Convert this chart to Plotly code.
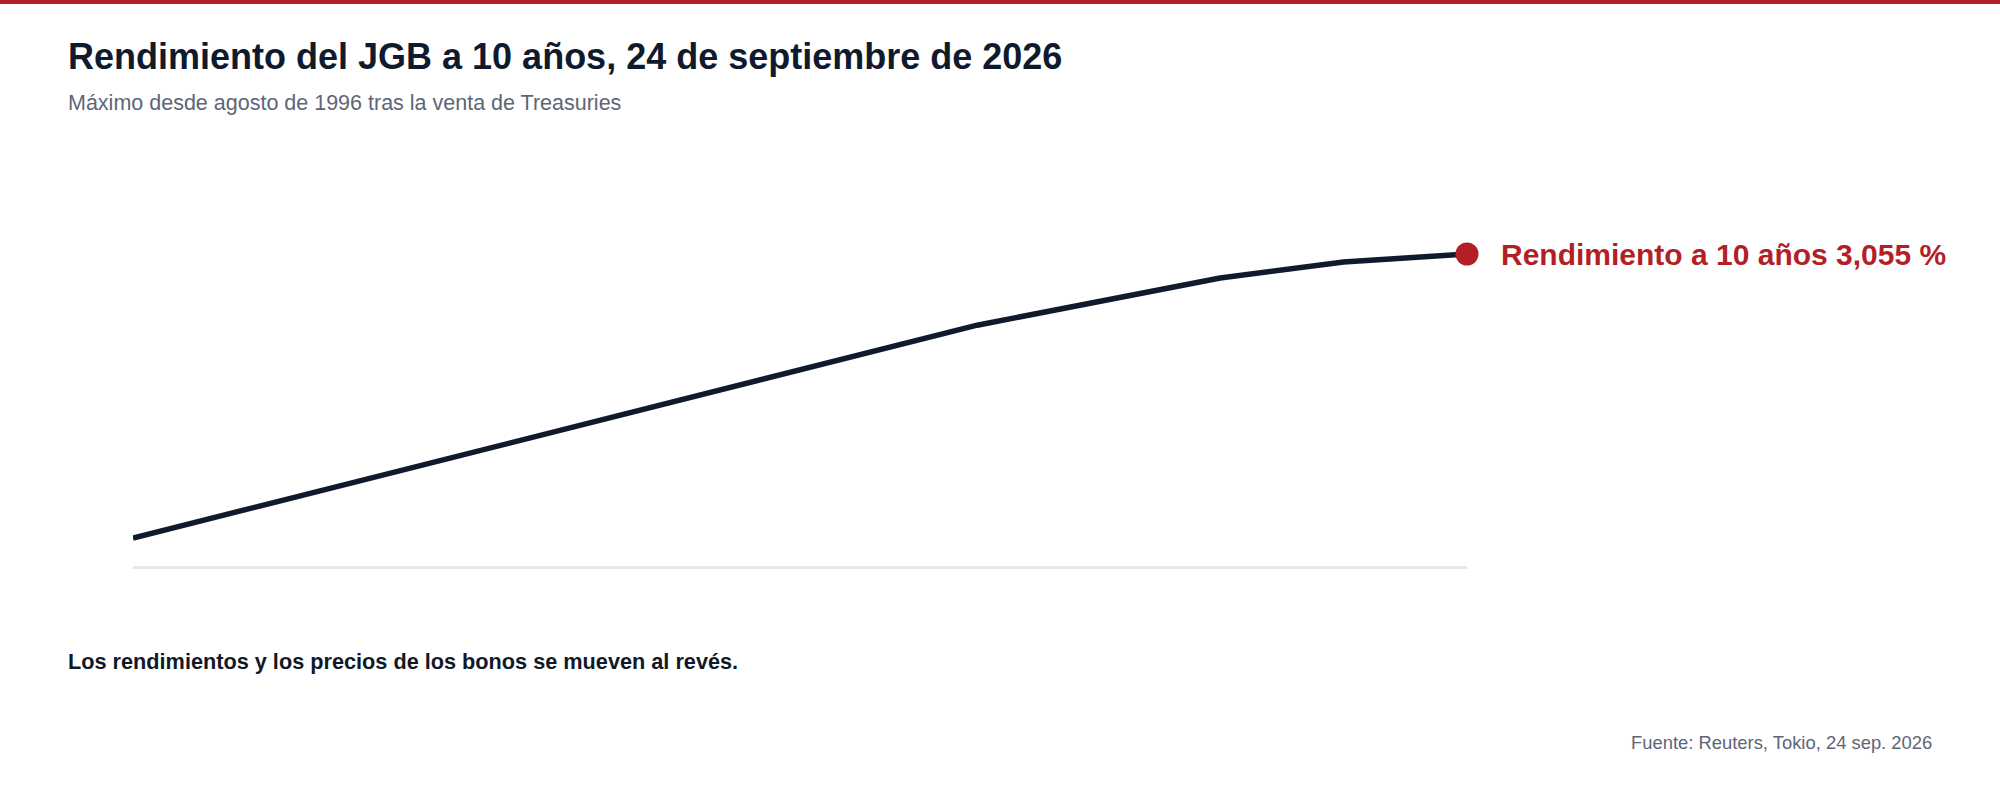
import plotly.graph_objects as go

# data (hidden y axis, scale estimated from the line shape)
dates = ["2025-10-24", "2026-05-24", "2026-07-24", "2026-08-24", "2026-09-24"]
yields = [2.345, 2.877, 2.995, 3.035, 3.055]
last_label = "Rendimiento a 10 años 3,055 %"

title = "Rendimiento del JGB a 10 años, 24 de septiembre de 2026"
subtitle = "Máximo desde agosto de 1996 tras la venta de Treasuries"
note = "Los rendimientos y los precios de los bonos se mueven al revés."
source = "Fuente: Reuters, Tokio, 24 sep. 2026"

W, H = 2000, 800
L, R, T, B = 133, 533, 140, 234
PW, PH = W - L - R, H - T - B

NAVY = "#0f1b2d"
RED = "#b31f27"
GREY = "#5d6678"
FONT = "Liberation Sans, Arial, Helvetica, sans-serif"


def px_x(p):
    return (p - L) / PW


def px_y(p):
    return (H - B - p) / PH


fig = go.Figure()
fig.add_trace(go.Scatter(x=dates, y=yields, mode="lines",
                         line=dict(color=NAVY, width=5.5),
                         hoverinfo="skip"))
fig.add_trace(go.Scatter(x=dates[-1:], y=yields[-1:], mode="markers",
                         marker=dict(color=RED, size=23),
                         cliponaxis=False, hoverinfo="skip"))

fig.add_annotation(x=dates[-1], y=yields[-1], xref="x", yref="y",
                   text=f"<b>{last_label}</b>", showarrow=False,
                   xanchor="left", yanchor="middle", xshift=32,
                   font=dict(family=FONT, size=30, color=RED))

texts = [
    (f"<b>{title}</b>", 66, 57, 36, NAVY, "left"),
    (subtitle, 66, 103, 21.5, GREY, "left"),
    (f"<b>{note}</b>", 66, 661, 21.7, "#111827", "left"),
    (source, 1934, 742, 18.4, GREY, "right"),
]
for txt, x, y, size, col, anchor in texts:
    fig.add_annotation(x=px_x(x), y=px_y(y), xref="paper", yref="paper",
                       text=txt, showarrow=False, xanchor=anchor,
                       yanchor="middle",
                       font=dict(family=FONT, size=size, color=col))

# red strip across the top of the page
fig.add_shape(type="rect", xref="paper", yref="paper",
              x0=px_x(0), x1=px_x(W), y0=px_y(4), y1=px_y(-2),
              fillcolor=RED, line_width=0, layer="above")

fig.update_layout(
    width=W, height=H,
    margin=dict(l=L, r=R, t=T, b=B),
    paper_bgcolor="white", plot_bgcolor="white",
    showlegend=False,
    font=dict(family=FONT),
    xaxis=dict(range=[dates[0], dates[-1]], showgrid=False, zeroline=False,
               showticklabels=False, ticks="", showline=True,
               linecolor="#e5e7eb", linewidth=3),
    yaxis=dict(range=[2.275, 3.34], visible=False),
)

fig.write_html("out.html", config={"displayModeBar": False},
               post_script="document.body.style.margin='0';")
